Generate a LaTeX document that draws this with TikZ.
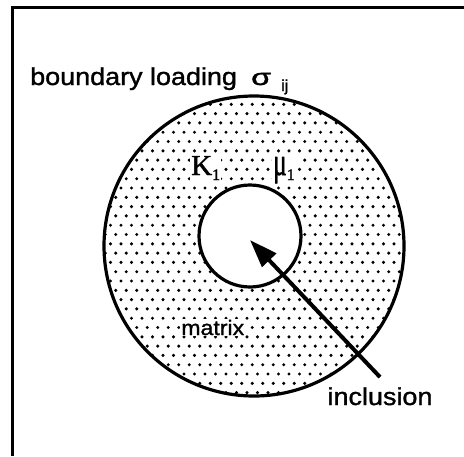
\documentclass[tikz,border=0pt]{standalone}
\usepackage{fontspec}
\usepackage{graphicx}
\setmainfont{Liberation Sans}[FakeBold=1.2]
\newfontfamily\serifgreek{Liberation Serif}[FakeBold=1.5]
\usetikzlibrary{arrows.meta}
\tikzset{
  ring/.style={circle, draw, line width=3.2pt, inner sep=0pt},
  lab/.style={inner sep=0pt, font=\fontsize{24.5}{26}\selectfont, xscale=1.1},
  whitelab/.style={inner sep=1pt, fill=white},
  stip/.style={fill=black},
  arr/.style={line width=4pt, -{Triangle[length=28pt,width=19pt]}},
}
\begin{document}
\begin{tikzpicture}[x=1pt,y=-1pt]
\useasboundingbox (0,0) rectangle (464,456);
% frame (cropped on right and bottom)
\draw[line width=3pt] (12,456) -- (12,7) -- (464,7);
% stipple of matrix
\begin{scope}
  \clip (254,246) circle (150);
  \foreach \r in {0,...,33} {
    \foreach \c in {0,...,29} {
      \fill[stip] ({100+\c*10.5+mod(\r,2)*5.25}, {95+\r*9.3}) circle (1.7);
    }
  }
\end{scope}
\node[ring, minimum size=300pt] (outer) at (254,246) {};
\node[ring, fill=white, minimum size=102pt] (inner) at (250,236) {};
% labels
\node[lab, anchor=base west] (bl) at (30,85) {boundary loading};
\node[inner sep=0pt, anchor=base west, font=\fontsize{23}{25}\selectfont] (sig) at (251,85) {\scalebox{1.4}[1]{σ}};
\node[inner sep=0pt, anchor=base west, font=\fontsize{16}{17}\selectfont] (ij) at (281,91) {ij};
\node[whitelab, anchor=base west, font=\serifgreek\fontsize{29}{30}\selectfont] (kap) at (190,175) {K\raisebox{-5pt}{\fontsize{16}{16}\selectfont 1}};
\node[whitelab, anchor=base west, font=\serifgreek\fontsize{28}{28}\selectfont] (mu) at (272,175) {\scalebox{0.9}[1.4]{μ}\raisebox{-5pt}{\fontsize{16}{16}\selectfont 1}};
\node[lab, whitelab, anchor=base west, font=\fontsize{21}{22}\selectfont] (mat) at (180,335) {matrix};
\node[lab, anchor=base] (incl) at (380,405) {inclusion};
% arrow to inclusion
\coordinate (tip) at (250,240);
\draw[arr] ([yshift=10pt]incl.north) -- (tip);
\end{tikzpicture}
\end{document}
